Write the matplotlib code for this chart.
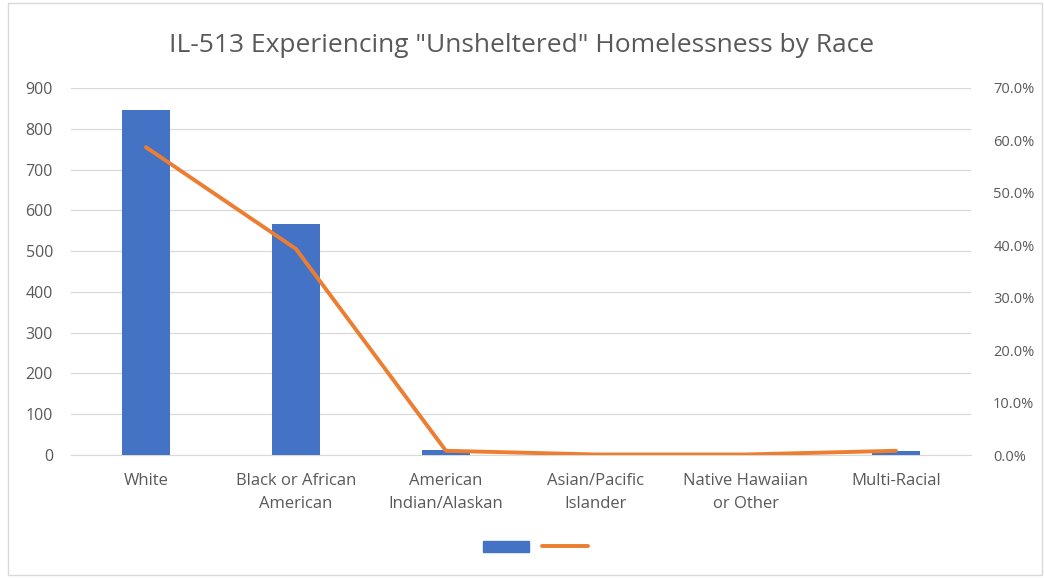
import matplotlib
matplotlib.use("Agg")
import matplotlib.pyplot as plt
from matplotlib.ticker import FuncFormatter, MultipleLocator
from matplotlib.patches import Rectangle
from matplotlib.lines import Line2D
import numpy as np

categories = ["White", "Black or African\nAmerican", "American\nIndian/Alaskan",
              "Asian/Pacific\nIslander", "Native Hawaiian\nor Other", "Multi-Racial"]
counts = [845, 566, 12, 2, 1, 11]
percents = [58.7, 39.3, 0.8, 0.1, 0.1, 0.8]

plt.rcParams['font.family'] = ['Open Sans', 'DejaVu Sans']
gray = '#595959'
blue = '#4472C4'
orange = '#ED7D31'

fig = plt.figure(figsize=(10.44, 5.78), dpi=100)
ax = fig.add_axes([0.068, 0.2128, 0.862, 0.635])
x = np.arange(len(categories))
ax.bar(x, counts, width=0.32, color=blue, zorder=3)
ax.set_xlim(-0.5, len(categories) - 0.5)
ax.set_ylim(0, 900)
ax.yaxis.set_major_locator(MultipleLocator(100))
ax.grid(axis='y', color='#D9D9D9', linewidth=0.9, zorder=0)
ax.set_xticks(x)
ax.set_xticklabels(categories, fontsize=12, color=gray, linespacing=1.55)
ax.tick_params(axis='both', length=0, labelcolor=gray)
ax.tick_params(axis='x', pad=13)
ax.tick_params(axis='y', pad=13, labelsize=11.5)
for s in ax.spines.values():
    s.set_visible(False)
ax.spines['bottom'].set_visible(True)
ax.spines['bottom'].set_color('#D9D9D9')

ax2 = ax.twinx()
ax2.plot(x, percents, color=orange, linewidth=2.8, solid_capstyle='round', zorder=4)
ax2.set_ylim(0, 70)
ax2.yaxis.set_major_locator(MultipleLocator(10))
ax2.yaxis.set_major_formatter(FuncFormatter(lambda v, p: f"{v:.1f}%"))
ax2.tick_params(axis='y', length=0, labelsize=10.5, labelcolor=gray, pad=16)
for s in ax2.spines.values():
    s.set_visible(False)

fig.text(0.5, 0.922, 'IL-513 Experiencing "Unsheltered" Homelessness by Race',
         ha='center', va='center', fontsize=19, color=gray)

handles = [Rectangle((0, 0), 1, 1, color=blue),
           Line2D([0], [0], color=orange, linewidth=2.8, solid_capstyle='round')]
fig.legend(handles, ['', ''], loc='center', bbox_to_anchor=(0.513, 0.052),
           ncol=2, frameon=False, handlelength=3.3, handleheight=0.8,
           columnspacing=0.95, handletextpad=0.0)

fig.add_artist(Rectangle((0.008, 0.005), 0.99, 0.99, transform=fig.transFigure,
                         fill=False, edgecolor='#D9D9D9', linewidth=1))

fig.savefig("out.png", dpi=100, facecolor='white')
